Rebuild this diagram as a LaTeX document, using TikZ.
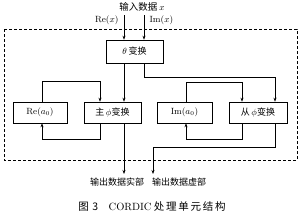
\documentclass[tikz,border=0pt]{standalone}
\usepackage{amsmath}
\usepackage{fontspec}
\newfontfamily\cjk{Noto Sans CJK SC}
\usepackage{tikz}
\usetikzlibrary{arrows.meta,positioning}

\begin{document}
\begin{tikzpicture}[x=1pt,y=-1pt,line width=0.6pt,
    font=\cjk\fontsize{9}{10}\selectfont,
    >={Stealth[length=4pt,width=3pt]},
    unit/.style={draw,minimum width=56pt,minimum height=21pt,inner sep=1pt}]
  \useasboundingbox (0,0) rectangle (300,215);
  % frame of the unit
  \draw[dash pattern=on 3pt off 2pt] (4,29) rectangle (297,160);
  % inputs
  \node (input) at (142,7) {\fontsize{9.5}{10}\selectfont 输入数据 $x$};
  \coordinate (inRe) at (124,15);
  \coordinate (inIm) at (144,15);
  \node[left=2pt] (reLab) at (inRe |- 0,20) {$\mathrm{Re}(x)$};
  \node[right=2pt] (imLab) at (inIm |- 0,20) {$\mathrm{Im}(x)$};
  % blocks
  \node[unit,minimum width=57pt,minimum height=23pt] (theta) at (134.5,51.5) {$\theta$\,变换};
  \node[unit,minimum width=54pt] (re) at (40,112.5) {$\mathrm{Re}(a_0)$};
  \node[unit,minimum width=57pt] (main) at (112.5,112.5) {主\,$\phi$变换};
  \node[unit,minimum width=55pt] (im) at (184.5,112.5) {$\mathrm{Im}(a_0)$};
  \node[unit,minimum width=58pt] (slave) at (258,112.5) {从\,$\phi$变换};
  % outputs
  \node[anchor=north] (outRe) at (117,174) {输出数据实部};
  \node[anchor=north] (outIm) at (179,174) {输出数据虚部};
  \node (caption) at (152,207) {\fontsize{10.5}{12}\selectfont 图\,\,3\quad\textrm{CORDIC}\ 处\,理\,单\,元\,结\,构};
  % connections
  \draw[->] (inRe) -- (inRe |- theta.north);
  \draw[->] (inIm) -- (inIm |- theta.north);
  \draw[->] (inRe |- theta.south) -- (inRe |- main.north);
  \draw[->] (inIm |- theta.south) -- ++(0,14) -| ([xshift=17pt]slave.north);
  \draw[->] ([xshift=2pt]re.north) -- ++(0,-20) -| ([xshift=-12.5pt]main.north);
  \draw[->] ([xshift=1.5pt]im.north) -- ++(0,-19) -| ([xshift=-16pt]slave.north);
  \draw[->] ([xshift=-12.5pt]main.south) -- ++(0,16) -| ([xshift=2pt]re.south);
  \draw[->] ([xshift=-16pt]slave.south) -- ++(0,16) -| ([xshift=1.5pt]im.south);
  \draw[->] (inRe |- main.south) -- (inRe |- outRe.north);
  \draw[->] ([xshift=17pt]slave.south) -- ++(0,24) -| ([xshift=-26pt]outIm.north);
\end{tikzpicture}
\end{document}
